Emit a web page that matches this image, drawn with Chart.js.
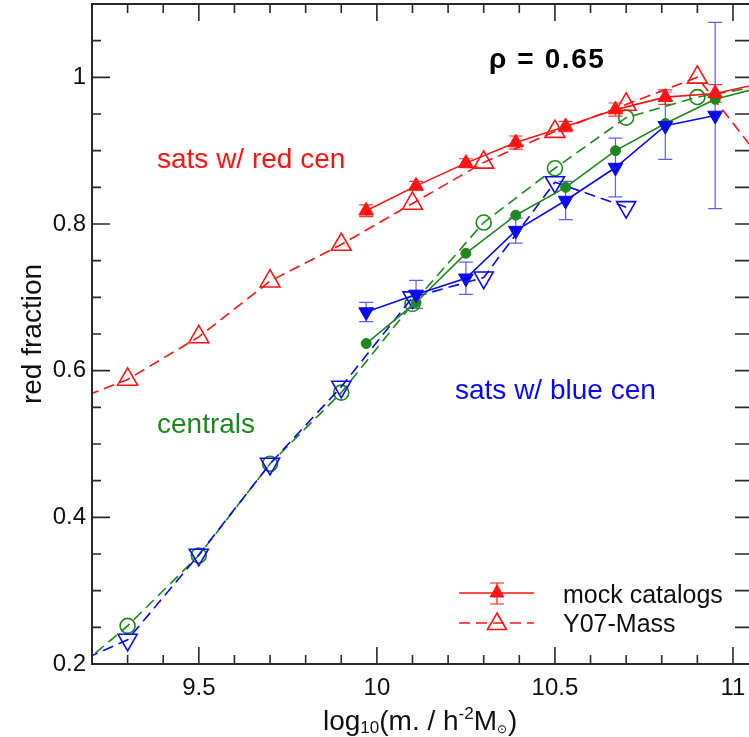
<!DOCTYPE html>
<html>
<head>
<meta charset="utf-8">
<script src="https://cdn.jsdelivr.net/npm/chart.js@4.4.0/dist/chart.umd.min.js"></script>
<style>
  html, body { margin: 0; padding: 0; background: #fff; overflow: hidden; }
  #wrap { width: 749px; height: 737px; }
</style>
</head>
<body>
<div id="wrap"><canvas id="chart" width="749" height="737"></canvas></div>
<script>
// tick labels
const xTickLabels = [9.5, 10, 10.5, 11];
const yTickLabels = [0.2, 0.4, 0.6, 0.8, 1];

// stellar mass bins (log10 m)
const mockMass = [9.97, 10.11, 10.25, 10.39, 10.53, 10.67, 10.81, 10.95, 11.09];
const y07Mass = [9.1, 9.3, 9.5, 9.7, 9.9, 10.1, 10.3, 10.5, 10.7, 10.9, 11.1];

// sats w/ red cen
const redMock = [0.818, 0.852, 0.883, 0.911, 0.933, 0.956, 0.973, 0.978, 0.993];
const redMockErr = [0.008, 0.006, 0.006, 0.009, 0.007, 0.009, 0.01, 0.012, 0.012];
const redY07 = [0.55, 0.588, 0.646, 0.722, 0.772, 0.828, 0.884, 0.926, 0.963, 1.0, 0.875];

// centrals
const greenMock = [0.637, 0.693, 0.760, 0.812, 0.850, 0.900, 0.937, 0.970, 0.988];
const greenY07 = [0.17, 0.252, 0.348, 0.473, 0.570, 0.691, 0.802, 0.876, 0.945, 0.973, 0.99];

// sats w/ blue cen
const blueMock = [0.680, 0.704, 0.726, 0.791, 0.832, 0.877, 0.934, 0.948];
const blueMockErr = [0.013, 0.019, 0.022, 0.017, 0.026, 0.04, 0.046, 0.127];
const blueY07 = [0.19, 0.233, 0.349, 0.473, 0.578, 0.70, 0.727, 0.857, 0.823];

const RED = "rgb(255, 20, 20)";
const GREEN = "rgb(30, 135, 30)";
const BLUE = "rgb(10, 10, 240)";
const FONT = '"Liberation Sans", Arial, Helvetica, sans-serif';

const pts = (xs, ys) => ys.map((y, i) => ({ x: xs[i], y: y }));

const mockSet = (label, xs, ys, color, style, radius, rotation) => ({
    label: label,
    data: pts(xs, ys),
    borderColor: color,
    borderWidth: 1.6,
    pointStyle: style,
    pointRadius: radius,
    pointRotation: rotation,
    pointBackgroundColor: color,
    pointBorderColor: color,
    pointBorderWidth: 1,
    fill: false,
    tension: 0,
    clip: 0,
});

const y07Set = (label, xs, ys, color, style, radius, rotation) => ({
    label: label,
    data: pts(xs, ys),
    borderColor: color,
    borderWidth: 1.6,
    borderDash: [11, 6],
    pointStyle: style,
    pointRadius: radius,
    pointRotation: rotation,
    pointBackgroundColor: "rgba(0,0,0,0)",
    pointBorderColor: color,
    pointBorderWidth: 1.6,
    fill: false,
    tension: 0,
    clip: 0,
});

const errorBars = [
    { xs: mockMass, ys: redMock, errs: redMockErr, color: "rgba(255, 20, 20, 0.85)" },
    { xs: mockMass, ys: blueMock, errs: blueMockErr, color: "rgba(40, 40, 240, 0.75)" },
];

const errorBarPlugin = {
    id: "errorBars",
    beforeDatasetsDraw(chart) {
        const { ctx, chartArea, scales } = chart;
        ctx.save();
        ctx.beginPath();
        ctx.rect(chartArea.left, chartArea.top, chartArea.right - chartArea.left, chartArea.bottom - chartArea.top);
        ctx.clip();
        ctx.lineWidth = 1.2;
        errorBars.forEach((set) => {
            ctx.strokeStyle = set.color;
            set.ys.forEach((v, i) => {
                const px = scales.x.getPixelForValue(set.xs[i]);
                const lo = scales.y.getPixelForValue(v - set.errs[i]);
                const hi = scales.y.getPixelForValue(v + set.errs[i]);
                ctx.beginPath();
                ctx.moveTo(px, lo);
                ctx.lineTo(px, hi);
                ctx.moveTo(px - 7, lo);
                ctx.lineTo(px + 7, lo);
                ctx.moveTo(px - 7, hi);
                ctx.lineTo(px + 7, hi);
                ctx.stroke();
            });
        });
        ctx.restore();
    },
};

const frameTick = (ctx, x1, y1, x2, y2) => {
    ctx.moveTo(x1, y1);
    ctx.lineTo(x2, y2);
};

const framePlugin = {
    id: "frame",
    afterDraw(chart) {
        const { ctx, chartArea, scales } = chart;
        const { left, right, top, bottom } = chartArea;
        ctx.save();
        ctx.strokeStyle = "#2a2a2a";
        ctx.lineWidth = 2;
        ctx.beginPath();
        ctx.moveTo(right, top);
        ctx.lineTo(left, top);
        ctx.lineTo(left, bottom);
        ctx.lineTo(right, bottom);
        ctx.stroke();

        ctx.lineWidth = 1.6;
        ctx.beginPath();
        // x ticks every 0.1, long at labelled values
        for (let k = 93; k <= 110; k++) {
            const v = k / 10;
            const px = scales.x.getPixelForValue(v);
            const major = xTickLabels.some((t) => Math.abs(t - v) < 1e-6);
            const len = major ? 17 : 9;
            frameTick(ctx, px, bottom, px, bottom - len);
            frameTick(ctx, px, top, px, top + len);
        }
        // y ticks every 0.05, long at labelled values
        for (let k = 5; k <= 21; k++) {
            const v = k / 20;
            const py = scales.y.getPixelForValue(v);
            const major = yTickLabels.some((t) => Math.abs(t - v) < 1e-6);
            frameTick(ctx, left, py, left + (major ? 18 : 9), py);
            frameTick(ctx, right, py, right - 14, py);
        }
        ctx.stroke();
        ctx.restore();
    },
};

const drawTriangle = (ctx, x, y, r, up, filled, color) => {
    const s = up ? 1 : -1;
    ctx.beginPath();
    ctx.moveTo(x, y - s * r);
    ctx.lineTo(x + r * 0.866, y + s * r * 0.5);
    ctx.lineTo(x - r * 0.866, y + s * r * 0.5);
    ctx.closePath();
    if (filled) {
        ctx.fillStyle = color;
        ctx.fill();
    }
    ctx.strokeStyle = color;
    ctx.stroke();
};

const textPlugin = {
    id: "texts",
    afterDraw(chart) {
        const ctx = chart.ctx;
        ctx.save();
        ctx.textBaseline = "alphabetic";
        ctx.textAlign = "left";

        // annotations
        ctx.fillStyle = "#000";
        ctx.font = "bold 28px " + FONT;
        ctx.letterSpacing = "1.6px";
        ctx.fillText("ρ = 0.65", 489, 68);
        ctx.letterSpacing = "0px";

        ctx.font = "28px " + FONT;
        ctx.fillStyle = RED;
        ctx.fillText("sats w/ red cen", 157, 168);
        ctx.fillStyle = GREEN;
        ctx.fillText("centrals", 157, 433);
        ctx.fillStyle = BLUE;
        ctx.fillText("sats w/ blue cen", 455, 399);

        // legend
        ctx.lineWidth = 1.6;
        ctx.strokeStyle = RED;
        ctx.beginPath();
        ctx.moveTo(459, 593);
        ctx.lineTo(534, 593);
        ctx.stroke();
        ctx.lineWidth = 1.2;
        ctx.beginPath();
        ctx.moveTo(497, 583);
        ctx.lineTo(497, 604);
        ctx.moveTo(490, 583);
        ctx.lineTo(504, 583);
        ctx.moveTo(490, 604);
        ctx.lineTo(504, 604);
        ctx.stroke();
        ctx.lineWidth = 1;
        drawTriangle(ctx, 497, 593, 8, true, true, RED);

        ctx.lineWidth = 1.6;
        ctx.setLineDash([11, 6]);
        ctx.beginPath();
        ctx.moveTo(459, 623);
        ctx.lineTo(534, 623);
        ctx.stroke();
        ctx.setLineDash([]);
        drawTriangle(ctx, 497, 624, 11, true, false, RED);

        ctx.fillStyle = "#111";
        ctx.font = "25px " + FONT;
        ctx.fillText("mock catalogs", 563, 603);
        ctx.fillText("Y07-Mass", 563, 632);

        // axis titles
        ctx.save();
        ctx.translate(41, 334);
        ctx.rotate(-Math.PI / 2);
        ctx.textAlign = "center";
        ctx.font = "28px " + FONT;
        ctx.fillText("red fraction", 0, 0);
        ctx.restore();

        const parts = [
            { t: "log", size: 28, dy: 0 },
            { t: "10", size: 17, dy: 3 },
            { t: "(m. / h", size: 28, dy: 0 },
            { t: "-2", size: 17, dy: -11 },
            { t: "M", size: 28, dy: 0 },
            { t: "⊙", size: 12, dy: 3 },
            { t: ")", size: 28, dy: 0 },
        ];
        let x = 323;
        parts.forEach((p) => {
            ctx.font = p.size + "px " + FONT;
            ctx.fillText(p.t, x, 730 + p.dy);
            x += ctx.measureText(p.t).width + (p.t === "⊙" ? 1 : 0);
        });
        ctx.restore();
    },
};

new Chart(document.getElementById("chart"), {
    type: "line",
    data: {
        datasets: [
            mockSet("mock red cen", mockMass, redMock, RED, "triangle", 8.5, 0),
            mockSet("mock blue cen", mockMass, blueMock, BLUE, "triangle", 8.5, 180),
            mockSet("mock centrals", mockMass, greenMock, GREEN, "circle", 5, 0),
            y07Set("Y07 red cen", y07Mass, redY07, RED, "triangle", 11.5, 0),
            y07Set("Y07 blue cen", y07Mass, blueY07, BLUE, "triangle", 11, 180),
            y07Set("Y07 centrals", y07Mass, greenY07, GREEN, "circle", 7.5, 0),
        ],
    },
    options: {
        responsive: false,
        animation: false,
        devicePixelRatio: 1,
        events: [],
        layout: { autoPadding: false, padding: { top: 4, left: 0, right: 0, bottom: 0 } },
        plugins: {
            legend: { display: false },
            tooltip: { enabled: false },
        },
        scales: {
            x: {
                type: "linear",
                min: 9.2,
                max: 11.045,
                grid: { display: false, drawTicks: false },
                border: { display: false },
                afterFit: (scale) => {
                    scale.height = 73;
                    scale.paddingLeft = 0;
                    scale.paddingRight = 0;
                },
                afterBuildTicks: (scale) => { scale.ticks = xTickLabels.map((v) => ({ value: v })); },
                ticks: {
                    padding: 10,
                    color: "#111",
                    font: { family: FONT, size: 24 },
                    maxRotation: 0,
                    callback: (v) => String(v),
                },
            },
            y: {
                type: "linear",
                min: 0.2,
                max: 1.1,
                grid: { display: false, drawTicks: false },
                border: { display: false },
                afterFit: (scale) => {
                    scale.width = 92;
                    scale.paddingTop = 0;
                    scale.paddingBottom = 0;
                },
                afterBuildTicks: (scale) => { scale.ticks = yTickLabels.map((v) => ({ value: v })); },
                ticks: {
                    padding: 6,
                    color: "#111",
                    font: { family: FONT, size: 24 },
                    callback: (v) => String(v),
                },
            },
        },
    },
    plugins: [errorBarPlugin, framePlugin, textPlugin],
});
</script>
</body>
</html>
